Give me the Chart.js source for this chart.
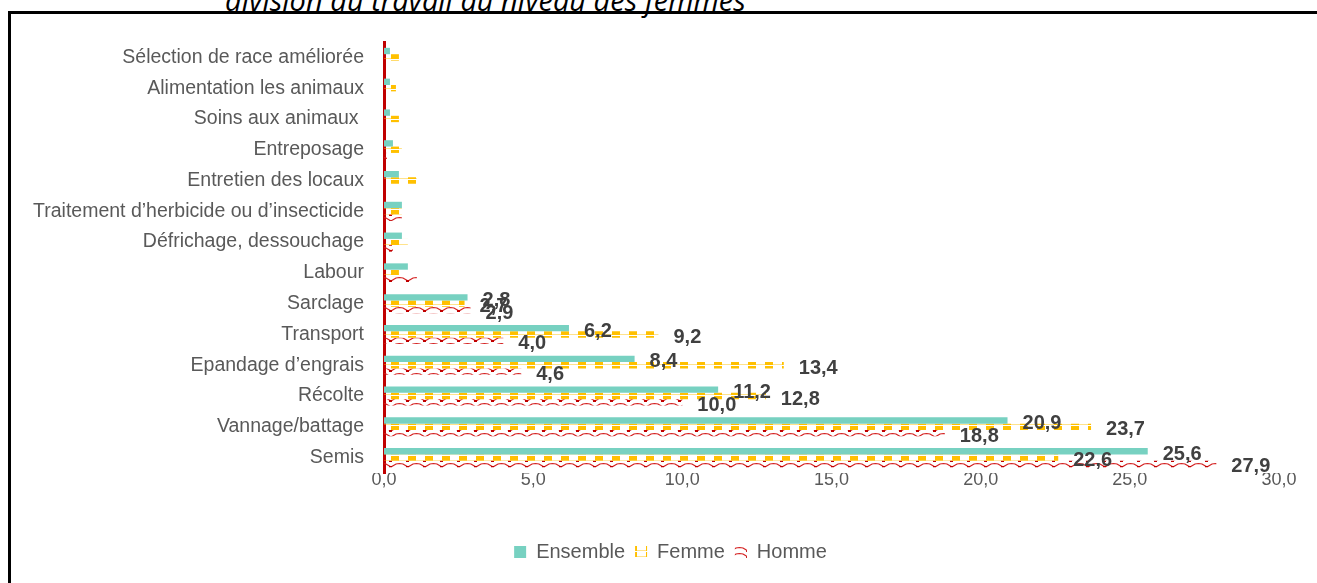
<!DOCTYPE html>
<html>
<head>
<meta charset="utf-8">
<script src="https://cdn.jsdelivr.net/npm/chart.js@4"></script>
<style>
  html, body { margin: 0; padding: 0; background: #fff; overflow: hidden; }
  #wrap { position: relative; width: 1317px; height: 583px; }
  #frame { position: absolute; left: 8px; top: 11px; right: -10px; bottom: -10px;
           border-left: 3px solid #000; border-top: 3px solid #000; }
  #title { position: absolute; left: 225px; top: -20px; white-space: nowrap; line-height: 29px;
           font: italic 29px "Open Sans", "Noto Sans", sans-serif; color: #000; }
  canvas { position: absolute; left: 0; top: 0; }
</style>
</head>
<body>
<div id="wrap">
  <div id="frame"></div>
  <div id="title">division du travail au niveau des femmes</div>
  <canvas id="chart" width="1317" height="583"></canvas>
</div>
<script>
(function(){
  // categories, top to bottom
  const categories = [
    'Sélection de race améliorée',
    'Alimentation les animaux',
    'Soins aux animaux ',
    'Entreposage',
    'Entretien des locaux',
    'Traitement d’herbicide ou d’insecticide',
    'Défrichage, dessouchage',
    'Labour',
    'Sarclage',
    'Transport',
    'Epandage d’engrais',
    'Récolte',
    'Vannage/battage',
    'Semis'
  ];
  const ensemble = [0.2, 0.2, 0.2, 0.3, 0.5, 0.6, 0.6, 0.8, 2.8, 6.2, 8.4, 11.2, 20.9, 25.6];
  const femme    = [0.5, 0.4, 0.5, 0.6, 1.1, 0.6, 0.8, 0.5, 2.7, 9.2, 13.4, 12.8, 23.7, 22.6];
  const homme    = [0.0, 0.0, 0.0, 0.1, 0.0, 0.6, 0.3, 1.1, 2.9, 4.0, 4.6, 10.0, 18.8, 27.9];

  const FONT = '"Liberation Sans", Arial, sans-serif';

  // pattern fills like the Excel ones
  function femmePattern() {
    const c = document.createElement('canvas');
    c.width = 17; c.height = 6;
    const g = c.getContext('2d');
    g.fillStyle = '#FFC000';
    g.fillRect(0, 0, 8, 5);
    g.fillStyle = 'rgba(255,192,0,0.45)';
    g.fillRect(8, 4, 9, 1);
    return g.createPattern(c, 'repeat');
  }
  function hommePattern() {
    const c = document.createElement('canvas');
    c.width = 17; c.height = 6;
    const g = c.getContext('2d');
    g.strokeStyle = '#D42020';
    g.lineWidth = 1.2;
    g.beginPath();
    g.moveTo(0, 5); g.lineTo(5, 2); g.lineTo(8.5, 1.5); g.lineTo(12, 2); g.lineTo(17, 5);
    g.stroke();
    g.fillStyle = '#C00000';
    g.fillRect(15, 4, 3, 2);
    g.fillRect(0, 4, 1, 2);
    return g.createPattern(c, 'repeat');
  }

  const fmt = v => v.toFixed(1).replace('.', ',');

  // value labels next to the larger bars
  const valueLabels = {
    id: 'valueLabels',
    afterDatasetsDraw(chart) {
      const ctx = chart.ctx;
      ctx.save();
      ctx.font = 'bold 20px ' + FONT;
      ctx.fillStyle = '#404040';
      ctx.textAlign = 'left';
      ctx.textBaseline = 'middle';
      chart.data.datasets.forEach((ds, di) => {
        const meta = chart.getDatasetMeta(di);
        meta.data.forEach((bar, i) => {
          const v = ds.data[i];
          if (v < 2) return;
          ctx.fillText(fmt(v), bar.x + 15, bar.y + 3);
        });
      });
      ctx.restore();
    }
  };

  // legend sits a bit right of centre in the original
  const shiftLegend = {
    id: 'shiftLegend',
    afterLayout(chart) {
      chart.legend.left += 27;
      chart.legend.right += 27;
    }
  };

  const ctx = document.getElementById('chart').getContext('2d');
  new Chart(ctx, {
    type: 'bar',
    data: {
      labels: categories,
      datasets: [
        { label: 'Ensemble', data: ensemble, backgroundColor: '#77D1C1' },
        { label: 'Femme', data: femme, backgroundColor: femmePattern() },
        { label: 'Homme', data: homme, backgroundColor: hommePattern() }
      ]
    },
    options: {
      indexAxis: 'y',
      responsive: false,
      animation: false,
      datasets: { bar: { categoryPercentage: 0.62, barPercentage: 1.0 } },
      layout: { padding: { top: 42, right: 38, left: 8, bottom: 11 } },
      plugins: {
        legend: {
          position: 'bottom',
          labels: {
            boxWidth: 12, boxHeight: 12, padding: 10,
            color: '#595959',
            font: { family: FONT, size: 20 }
          }
        },
        tooltip: { enabled: false }
      },
      scales: {
        x: {
          min: 0, max: 30,
          grid: { display: false, drawTicks: false },
          border: { display: false },
          afterFit: s => { s.height = 59; },
          ticks: {
            stepSize: 5, padding: -4,
            color: '#595959',
            font: { family: FONT, size: 18 },
            callback: v => fmt(v)
          }
        },
        y: {
          grid: { display: false, drawTicks: false },
          border: { color: '#C00000', width: 3 },
          afterFit: s => { s.width = 376; },
          ticks: {
            padding: 20,
            color: '#595959',
            font: { family: FONT, size: 19.5 }
          }
        }
      }
    },
    plugins: [valueLabels, shiftLegend]
  });
})();
</script>
</body>
</html>
